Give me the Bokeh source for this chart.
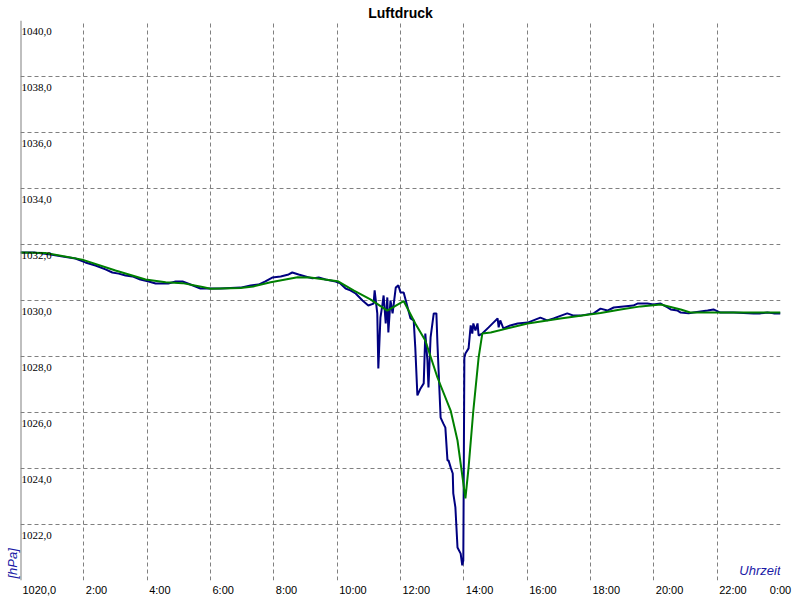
from bokeh.plotting import figure
from bokeh.models import (ColumnDataSource, LabelSet, Label, Grid, FixedTicker, Span, Range1d,
                          Title, LinearAxis)
from bokeh.embed import file_html
from bokeh.resources import INLINE

# Raw measurement (minutes after midnight, hPa)
raw_minutes = [0, 28, 57, 80, 104, 123, 142, 161, 174, 186, 199, 212, 227, 243, 256, 280, 294, 307,
               322, 341, 379, 417, 436, 451, 464, 477, 493, 508, 515, 527, 540, 553, 565, 578, 597,
               606, 616, 625, 635, 648, 659, 669, 671, 676, 678, 682, 686, 688, 692, 695, 697, 701,
               705, 711, 716, 720, 726, 729, 735, 739, 745, 748, 752, 758, 764, 767, 771, 773, 777,
               783, 788, 790, 796, 801, 805, 809, 811, 815, 819, 820, 824, 828, 834, 837, 839, 841,
               843, 849, 853, 856, 858, 862, 866, 868, 875, 887, 896, 904, 906, 909, 915, 928, 942,
               961, 985, 998, 1010, 1036, 1048, 1061, 1086, 1099, 1112, 1124, 1161, 1169, 1188, 1199,
               1213, 1226, 1232, 1245, 1251, 1266, 1275, 1302, 1313, 1326, 1351, 1389, 1402, 1415,
               1427, 1440]
raw_hpa = [1031.71, 1031.71, 1031.64, 1031.57, 1031.50, 1031.36, 1031.25, 1031.11, 1031.00, 1030.96,
           1030.89, 1030.86, 1030.75, 1030.68, 1030.61, 1030.61, 1030.68, 1030.68, 1030.57, 1030.43,
           1030.43, 1030.46, 1030.54, 1030.57, 1030.68, 1030.82, 1030.86, 1030.93, 1031.00, 1030.93,
           1030.86, 1030.79, 1030.82, 1030.75, 1030.68, 1030.61, 1030.43, 1030.36, 1030.25, 1030.00,
           1029.82, 1029.89, 1030.36, 1029.54, 1027.57, 1029.39, 1029.89, 1030.18, 1029.18, 1030.11,
           1028.86, 1030.00, 1029.54, 1030.46, 1030.54, 1030.29, 1030.29, 1030.07, 1029.64, 1029.36,
           1029.29, 1028.32, 1026.61, 1026.86, 1027.04, 1028.82, 1027.86, 1026.89, 1028.68, 1029.54,
           1029.54, 1028.46, 1025.82, 1025.61, 1025.46, 1024.29, 1024.29, 1024.04, 1023.82, 1023.11,
           1022.61, 1021.18, 1020.96, 1020.54, 1020.71, 1027.96, 1028.11, 1028.29, 1029.11, 1028.82,
           1029.18, 1028.93, 1029.18, 1028.75, 1028.82, 1029.04, 1029.21, 1029.36, 1029.04, 1029.29,
           1029.00, 1029.11, 1029.18, 1029.21, 1029.39, 1029.29, 1029.36, 1029.54, 1029.46, 1029.46,
           1029.54, 1029.71, 1029.64, 1029.75, 1029.82, 1029.89, 1029.89, 1029.86, 1029.89, 1029.75,
           1029.68, 1029.64, 1029.57, 1029.54, 1029.57, 1029.64, 1029.68, 1029.57, 1029.57, 1029.54,
           1029.54, 1029.57, 1029.54, 1029.54]

# Smoothed curve
smooth_minutes = [0, 47, 117, 180, 237, 275, 307, 345, 360, 417, 441, 474, 525, 549, 601, 631, 663,
                  695, 726, 748, 767, 790, 815, 828, 843, 849, 858, 868, 875, 891, 961, 1023, 1099,
                  1137, 1175, 1213, 1251, 1269, 1351, 1440]
smooth_hpa = [1031.71, 1031.70, 1031.46, 1031.07, 1030.75, 1030.65, 1030.62, 1030.48, 1030.42,
              1030.45, 1030.50, 1030.65, 1030.83, 1030.82, 1030.69, 1030.36, 1030.04, 1029.64,
              1029.98, 1029.18, 1028.57, 1027.25, 1026.07, 1025.00, 1022.93, 1024.04, 1026.07,
              1027.96, 1028.82, 1028.86, 1029.18, 1029.36, 1029.55, 1029.68, 1029.79, 1029.86,
              1029.68, 1029.57, 1029.57, 1029.57]

x_ticks = [0, 120, 240, 360, 480, 600, 720, 840, 960, 1080, 1200, 1320, 1440]
x_tick_labels = ["", "2:00", "4:00", "6:00", "8:00", "10:00", "12:00", "14:00", "16:00",
                 "18:00", "20:00", "22:00", "0:00"]
y_ticks = [1020, 1022, 1024, 1026, 1028, 1030, 1032, 1034, 1036, 1038, 1040]
y_tick_labels = ["1020,0", "1022,0", "1024,0", "1026,0", "1028,0", "1030,0", "1032,0",
                 "1034,0", "1036,0", "1038,0", "1040,0"]

FONT = "Liberation Sans"
AXIS_BLUE = "#1a1aa6"
X_START, X_END = 0, 1440
FRAME_W = 760

p = figure(width=800, height=600, output_backend="svg", toolbar_location=None,
           x_range=Range1d(X_START, X_END), y_range=Range1d(1020, 1040),
           x_axis_location=None, y_axis_location=None,
           min_border_left=20, min_border_right=20, min_border_top=20, min_border_bottom=20)
p.outline_line_color = None
p.background_fill_color = "white"
p.border_fill_color = "white"

p.title.text = "Luftdruck"
p.title.align = "center"
p.title.text_font = FONT
p.title.text_font_size = "14px"
p.title.text_font_style = "bold"
p.title.text_color = "black"
p.title.standoff = 0
p.title.offset = 0

p.add_layout(Title(text="[hPa]", align="left", text_font=FONT, text_font_size="13px",
                   text_font_style="italic", text_color=AXIS_BLUE, standoff=2, offset=2), "left")


# bottom axis: labels sit just right of their gridline (axis labels are centred by Bokeh,
# so the label anchor is moved by half the label's rendered width)
def label_px(s):
    return sum(3.06 if ch in ":," else 6.12 for ch in s)


corner = dict(zip(x_ticks, x_tick_labels))
corner[x_ticks[0]] = y_tick_labels[0]
px_to_min = (X_END - X_START) / FRAME_W
label_pos, overrides = [], {}
for t, lab in corner.items():
    pos = round(min(t + (label_px(lab) / 2 + 2) * px_to_min, X_END), 2)
    label_pos.append(pos)
    overrides[pos] = lab

xaxis = LinearAxis(ticker=FixedTicker(ticks=label_pos, minor_ticks=[]),
                   major_label_overrides=overrides,
                   axis_line_color=None, major_tick_line_color=None, minor_tick_line_color=None,
                   major_tick_in=0, major_tick_out=0, major_label_standoff=3,
                   major_label_text_font=FONT, major_label_text_font_size="11px",
                   major_label_text_color="black")
p.add_layout(xaxis, "below")

# drop default grids, add dashed grids at the fixed ticks
p.center = [r for r in p.center if not isinstance(r, Grid)]
xg = Grid(dimension=0, ticker=FixedTicker(ticks=x_ticks), grid_line_color="#808080",
          grid_line_dash="4 3", grid_line_width=1)
yg = Grid(dimension=1, ticker=FixedTicker(ticks=y_ticks), grid_line_color="#808080",
          grid_line_dash="4 3", grid_line_width=1)
p.add_layout(xg)
p.add_layout(yg)

p.line(raw_minutes, raw_hpa, line_color="#000080", line_width=2)
p.line(smooth_minutes, smooth_hpa, line_color="#008000", line_width=2)

p.add_layout(Span(location=0, dimension="height", line_color="#808080", line_width=2))

ysrc = ColumnDataSource(dict(x=[0] * (len(y_ticks) - 1), y=y_ticks[1:], t=y_tick_labels[1:]))
p.add_layout(LabelSet(x="x", y="y", text="t", source=ysrc, x_offset=1, y_offset=-14,
                      text_font=FONT, text_font_size="11px", text_color="black",
                      text_baseline="alphabetic", text_align="left"))

p.add_layout(Label(x=1440, y=1020, x_offset=0, y_offset=10, text="Uhrzeit", text_font=FONT,
                   text_font_size="13px", text_font_style="italic", text_color=AXIS_BLUE,
                   text_align="right", text_baseline="alphabetic"))

open("out.html", "w").write(file_html(p, INLINE))
